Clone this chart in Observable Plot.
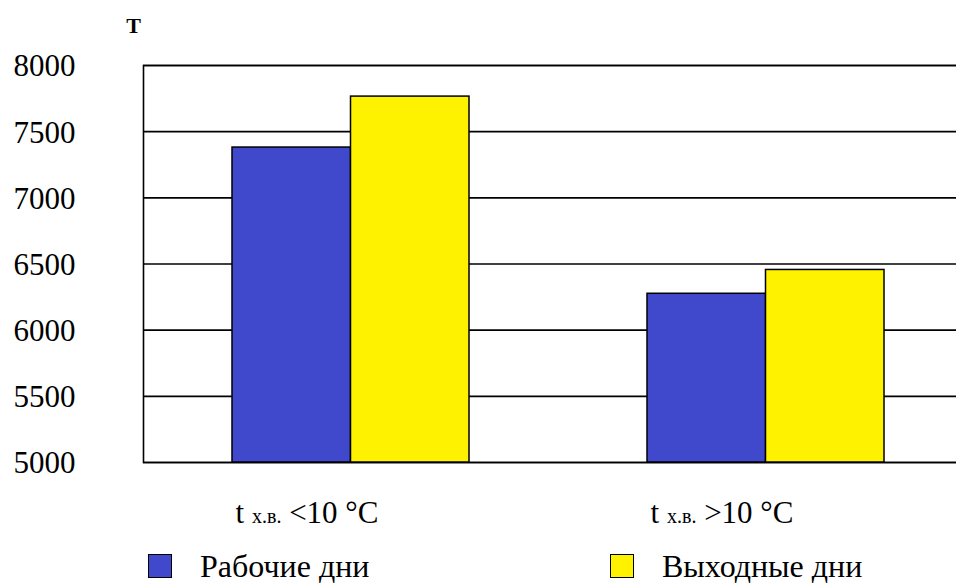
<!DOCTYPE html>
<html>
<head>
<meta charset="utf-8">
<script src="https://cdn.jsdelivr.net/npm/d3@7"></script>
<script src="https://cdn.jsdelivr.net/npm/@observablehq/plot@0.6"></script>
<style>
  html, body { margin: 0; padding: 0; background: #fff; overflow: hidden; }
  #wrap { position: relative; width: 956px; height: 586px; font-family: "Liberation Serif", "Times New Roman", serif; }
  .legend-item { position: absolute; top: 548px; height: 36px; line-height: 36px; display: flex; align-items: center; font-size: 32px; color: #000; white-space: nowrap; }
  .swatch { width: 22px; height: 22px; border: 1.5px solid #000; box-sizing: content-box; margin-right: 28px; }
</style>
</head>
<body>
<div id="wrap"></div>
<script>
// Water temperature conditions (categories) and day types (series)
const tempLabels = ["<10 °C", ">10 °C"];
const tempPrefix = "t";
const tempSub = "х.в.";
const series = ["Рабочие дни", "Выходные дни"];
const seriesColors = ["#4049CC", "#FFF200"];
const workdays = [7380, 6275];
const weekends = [7765, 6455];
const yTicks = [5000, 5500, 6000, 6500, 7000, 7500, 8000];
const yLabel = "T";

const cats = tempLabels.map(t => `${tempPrefix} ${tempSub} ${t}`);
const rows = [];
cats.forEach((c, i) => {
  rows.push({cat: c, series: series[0], value: workdays[i]});
  rows.push({cat: c, series: series[1], value: weekends[i]});
});

const half = 237 / 2; // each bar fills half of its group band
const serif = '"Liberation Serif", "Times New Roman", serif';

const plot = Plot.plot({
  width: 956,
  height: 540,
  marginTop: 65,
  marginBottom: 78,
  marginLeft: 143,
  marginRight: 0,
  style: {fontFamily: serif, fontSize: "31px", color: "#000", background: "#fff"},
  x: {domain: cats, range: [232, 884], paddingInner: 0.429, paddingOuter: 0},
  y: {domain: [yTicks[0], yTicks[yTicks.length - 1]]},
  color: {domain: series, range: seriesColors},
  marks: [
    Plot.ruleY(yTicks, {stroke: "#000", strokeWidth: 1.6}),
    Plot.frame({stroke: "#000", strokeWidth: 1.6, insetRight: -20}),
    Plot.barY(rows.filter(d => d.series === series[0]), {
      x: "cat", y1: yTicks[0], y2: "value", fill: "series",
      stroke: "#000", strokeWidth: 1.5, insetRight: half
    }),
    Plot.barY(rows.filter(d => d.series === series[1]), {
      x: "cat", y1: yTicks[0], y2: "value", fill: "series",
      stroke: "#000", strokeWidth: 1.5, insetLeft: half
    }),
    Plot.axisY(yTicks, {tickSize: 0, tickPadding: 68, label: null, fontSize: 31,
      fontFamily: serif, tickFormat: d => String(d), dy: 1}),
    Plot.axisX({tickSize: 0, tickPadding: 38, label: null, dx: -44, fontSize: 31, fontFamily: serif}),
    Plot.text([yLabel], {frameAnchor: "top-left", textAnchor: "middle", dx: -10, dy: -40,
      lineAnchor: "middle", fontWeight: "bold", fontSize: 22, fontFamily: serif})
  ]
});

// Render the "х.в." part of the category labels as a small subscript
d3.select(plot).selectAll('g[aria-label="x-axis tick label"] text').each(function() {
  const el = d3.select(this);
  const full = el.text();
  const [pre, post] = full.split(tempSub);
  el.text(null);
  el.append("tspan").text(pre);
  el.append("tspan").attr("font-size", 20).text(tempSub);
  el.append("tspan").text(post);
});

const wrap = document.getElementById("wrap");
wrap.appendChild(plot);

// Legend below the chart
const legendX = [148, 610];
series.forEach((s, i) => {
  const item = document.createElement("div");
  item.className = "legend-item";
  item.style.left = legendX[i] + "px";
  const sw = document.createElement("div");
  sw.className = "swatch";
  sw.style.background = seriesColors[i];
  const label = document.createElement("span");
  label.textContent = s;
  item.appendChild(sw);
  item.appendChild(label);
  wrap.appendChild(item);
});
</script>
</body>
</html>
